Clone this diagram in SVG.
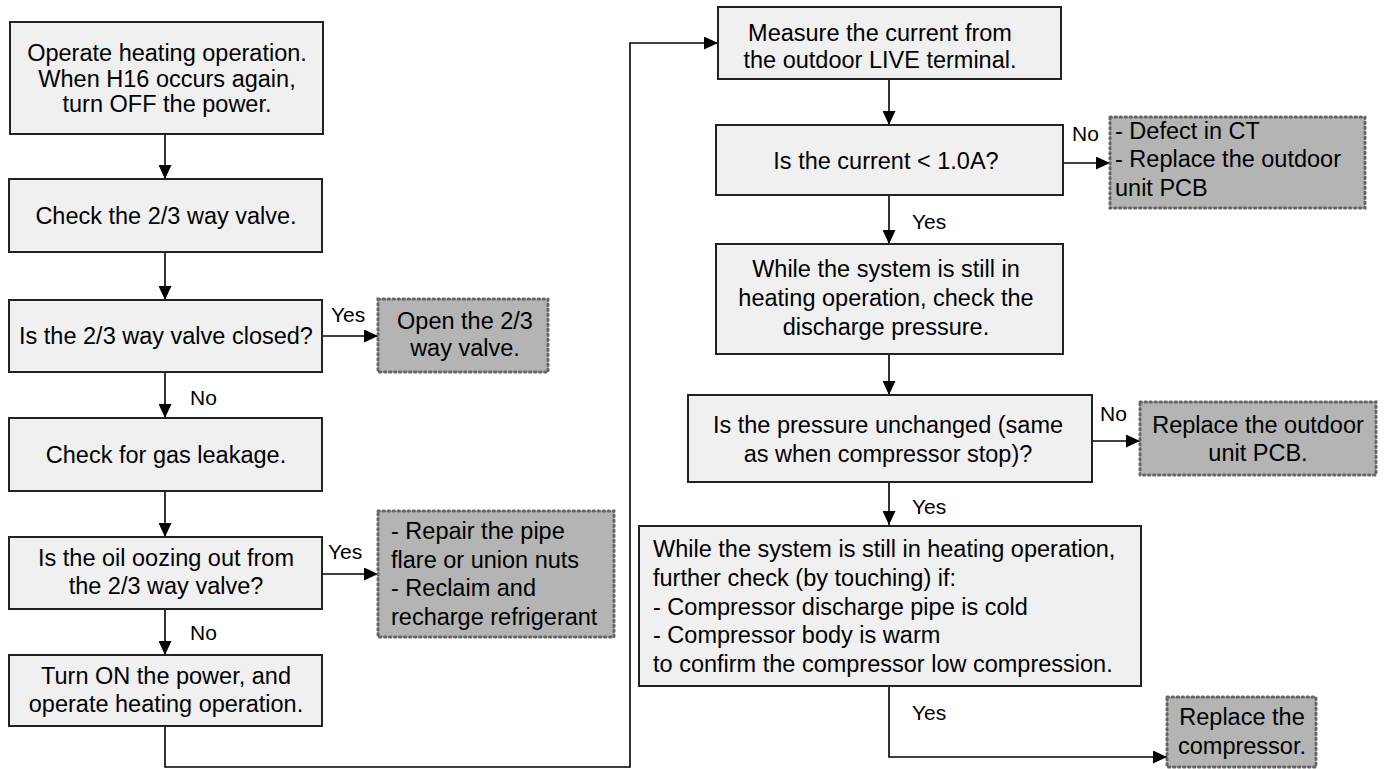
<svg xmlns="http://www.w3.org/2000/svg" width="1386" height="769" viewBox="0 0 1386 769">
<defs>
<marker id="arr" viewBox="0 0 10 10" refX="10" refY="5" markerWidth="14" markerHeight="13" markerUnits="userSpaceOnUse" orient="auto" preserveAspectRatio="none">
<path d="M0,0 L10,5 L0,10 z" fill="#000"/>
</marker>
<style>
.box{fill:#f0f0f0;stroke:#222;stroke-width:2}
.res{fill:#b4b4b4;stroke:#666;stroke-width:3;stroke-dasharray:1.5 3.5;stroke-linecap:round}
text{font-family:"Liberation Sans",Arial,sans-serif;font-size:23.5px;fill:#000}
.lbl{font-size:21px}
.c{text-anchor:middle}
.ln{fill:none;stroke:#000;stroke-width:1.6}
</style>
</defs>
<rect width="1386" height="769" fill="#fff"/>
<g id="connectors">
<line class="ln" x1="165" y1="133" x2="165" y2="179" marker-end="url(#arr)"/>
<line class="ln" x1="165" y1="252" x2="165" y2="300" marker-end="url(#arr)"/>
<line class="ln" x1="322" y1="336" x2="378" y2="336" marker-end="url(#arr)"/>
<line class="ln" x1="165" y1="372" x2="165" y2="418" marker-end="url(#arr)"/>
<line class="ln" x1="165" y1="491" x2="165" y2="537" marker-end="url(#arr)"/>
<line class="ln" x1="322" y1="574" x2="378" y2="574" marker-end="url(#arr)"/>
<line class="ln" x1="165" y1="609" x2="165" y2="655" marker-end="url(#arr)"/>
<polyline class="ln" points="165,726 165,767 630,767 630,43 718,43" marker-end="url(#arr)"/>
<line class="ln" x1="889" y1="79" x2="889" y2="125" marker-end="url(#arr)"/>
<line class="ln" x1="1063" y1="163" x2="1110" y2="163" marker-end="url(#arr)"/>
<line class="ln" x1="889" y1="195" x2="889" y2="244" marker-end="url(#arr)"/>
<line class="ln" x1="889" y1="354" x2="889" y2="395" marker-end="url(#arr)"/>
<line class="ln" x1="1092" y1="441" x2="1140" y2="441" marker-end="url(#arr)"/>
<line class="ln" x1="889" y1="482" x2="889" y2="525" marker-end="url(#arr)"/>
<polyline class="ln" points="889,686 889,757 1167,757" marker-end="url(#arr)"/>
<text class="lbl" x="331" y="322">Yes</text>
<text class="lbl" x="190" y="405">No</text>
<text class="lbl" x="328" y="559">Yes</text>
<text class="lbl" x="190" y="640">No</text>
<text class="lbl" x="1072" y="141">No</text>
<text class="lbl" x="912" y="229">Yes</text>
<text class="lbl" x="1100" y="421">No</text>
<text class="lbl" x="912" y="514">Yes</text>
<text class="lbl" x="912" y="720">Yes</text>
</g>
<g id="n1"><rect class="box" x="10" y="22" width="313" height="112"/>
<text class="c" x="167" y="61">Operate heating operation.</text>
<text class="c" x="167" y="86.5">When H16 occurs again,</text>
<text class="c" x="167" y="112">turn OFF the power.</text></g>
<g id="n2"><rect class="box" x="9" y="179" width="313" height="73"/>
<text class="c" x="166" y="224">Check the 2/3 way valve.</text></g>
<g id="n3"><rect class="box" x="9" y="300" width="313" height="72"/>
<text class="c" x="166" y="344">Is the 2/3 way valve closed?</text></g>
<g id="r1"><rect class="res" x="378" y="299" width="170" height="73"/>
<text class="c" x="465" y="329">Open the 2/3</text>
<text class="c" x="465" y="356">way valve.</text></g>
<g id="n4"><rect class="box" x="9" y="418" width="313" height="73"/>
<text class="c" x="166" y="463">Check for gas leakage.</text></g>
<g id="n5"><rect class="box" x="9" y="537" width="313" height="72"/>
<text class="c" x="166" y="566">Is the oil oozing out from</text>
<text class="c" x="166" y="594">the 2/3 way valve?</text></g>
<g id="r2"><rect class="res" x="378" y="511" width="236" height="126"/>
<text x="391" y="539">- Repair the pipe</text>
<text x="391" y="568">flare or union nuts</text>
<text x="391" y="596">- Reclaim and</text>
<text x="391" y="625">recharge refrigerant</text></g>
<g id="n6"><rect class="box" x="9" y="655" width="313" height="71"/>
<text class="c" x="166" y="684">Turn ON the power, and</text>
<text class="c" x="166" y="712">operate heating operation.</text></g>
<g id="n7"><rect class="box" x="718" y="7" width="343" height="72"/>
<text class="c" x="880" y="41">Measure the current from</text>
<text class="c" x="880" y="68">the outdoor LIVE terminal.</text></g>
<g id="n8"><rect class="box" x="716" y="125" width="347" height="70"/>
<text class="c" x="886" y="169">Is the current &lt; 1.0A?</text></g>
<g id="r3"><rect class="res" x="1110" y="117" width="255" height="91"/>
<text x="1115" y="139">- Defect in CT</text>
<text x="1115" y="167">- Replace the outdoor</text>
<text x="1115" y="196">unit PCB</text></g>
<g id="n9"><rect class="box" x="716" y="244" width="347" height="110"/>
<text class="c" x="886" y="277">While the system is still in</text>
<text class="c" x="886" y="306">heating operation, check the</text>
<text class="c" x="886" y="335">discharge pressure.</text></g>
<g id="n10"><rect class="box" x="688" y="395" width="404" height="87"/>
<text class="c" x="888" y="433">Is the pressure unchanged (same</text>
<text class="c" x="888" y="462">as when compressor stop)?</text></g>
<g id="r4"><rect class="res" x="1140" y="402" width="236" height="73"/>
<text class="c" x="1258" y="433">Replace the outdoor</text>
<text class="c" x="1258" y="461">unit PCB.</text></g>
<g id="n11"><rect class="box" x="639" y="526" width="502" height="160"/>
<text x="653" y="557">While the system is still in heating operation,</text>
<text x="653" y="586">further check (by touching) if:</text>
<text x="653" y="615">- Compressor discharge pipe is cold</text>
<text x="653" y="643">- Compressor body is warm</text>
<text x="653" y="672">to confirm the compressor low compression.</text></g>
<g id="r5"><rect class="res" x="1167" y="697" width="149" height="70"/>
<text class="c" x="1242" y="725">Replace the</text>
<text class="c" x="1242" y="754">compressor.</text></g>
</svg>
